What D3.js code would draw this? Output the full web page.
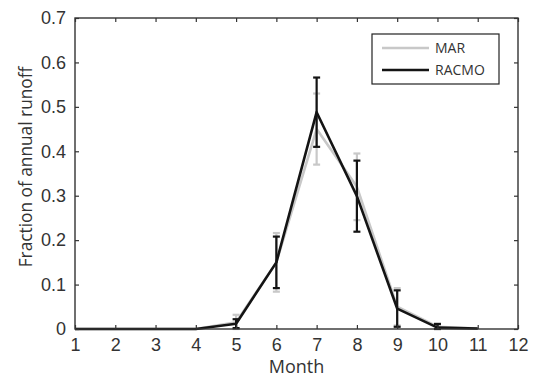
<!DOCTYPE html>
<html>
<head>
<meta charset="utf-8">
<script src="https://cdnjs.cloudflare.com/ajax/libs/d3/7.8.5/d3.min.js"></script>
<style>
  body { margin: 0; background: #fff; }
  svg { display: block; font-family: "Open Sans", "Liberation Sans", sans-serif; }
</style>
</head>
<body>
<div id="chart"></div>
<script>
// months on the x axis
const months = [1, 2, 3, 4, 5, 6, 7, 8, 9, 10, 11];
// monthly fraction of annual runoff, with one-sigma spread
const marValues   = [0, 0, 0, 0, 0.015, 0.15, 0.45, 0.32, 0.05, 0.005, 0.001];
const marErrors   = [0, 0, 0, 0, 0.017, 0.066, 0.08, 0.075, 0.042, 0.008, 0];
const racmoValues = [0, 0, 0, 0, 0.012, 0.15, 0.488, 0.299, 0.046, 0.003, 0.001];
const racmoErrors = [0, 0, 0, 0, 0.01, 0.058, 0.078, 0.08, 0.041, 0.008, 0];
const xTicks = [1, 2, 3, 4, 5, 6, 7, 8, 9, 10, 11, 12];
const yTicks = [0, 0.1, 0.2, 0.3, 0.4, 0.5, 0.6, 0.7];

const width = 533, height = 381;
const margin = { top: 18, right: 15, bottom: 52, left: 75 };

const svg = d3.select("#chart").append("svg")
    .attr("width", width)
    .attr("height", height);

const x = d3.scaleLinear().domain([1, 12]).range([margin.left, width - margin.right]);
const y = d3.scaleLinear().domain([0, 0.7]).range([height - margin.bottom, margin.top]);

const series = [
    { name: "MAR", values: marValues, errors: marErrors, color: "#c8c8c8" },
    { name: "RACMO", values: racmoValues, errors: racmoErrors, color: "#141414" }
];

const line = d3.line()
    .x(d => x(d.m))
    .y(d => y(d.v));

series.forEach(s => {
    const pts = months.map((m, i) => ({ m, v: s.values[i], e: s.errors[i] }));
    const g = svg.append("g");
    // error bars
    pts.filter(d => d.e > 0).forEach(d => {
        const x0 = x(d.m), y1 = y(d.v + d.e), y2 = y(Math.max(0, d.v - d.e));
        g.append("line").attr("x1", x0).attr("x2", x0).attr("y1", y1).attr("y2", y2)
            .attr("stroke", s.color).attr("stroke-width", 2.2);
        [y1, y2].forEach(yy => {
            g.append("line").attr("x1", x0 - 3.5).attr("x2", x0 + 3.5).attr("y1", yy).attr("y2", yy)
                .attr("stroke", s.color).attr("stroke-width", 2.2);
        });
    });
    g.append("path")
        .datum(pts)
        .attr("d", line)
        .attr("fill", "none")
        .attr("stroke", s.color)
        .attr("stroke-width", 2.6)
        .attr("stroke-linejoin", "round");
});

// frame and ticks
const axisColor = "#333";
const x0 = x.range()[0], x1 = x.range()[1], y0 = y.range()[0], y1 = y.range()[1];
svg.append("rect")
    .attr("x", x0).attr("y", y1)
    .attr("width", x1 - x0).attr("height", y0 - y1)
    .attr("fill", "none").attr("stroke", axisColor).attr("stroke-width", 1.4);

const xAxis = svg.append("g").attr("transform", `translate(0,${y0})`)
    .call(d3.axisBottom(x).tickValues(xTicks).tickSizeInner(-4).tickSizeOuter(0).tickPadding(9));
const xTop = svg.append("g").attr("transform", `translate(0,${y1})`)
    .call(d3.axisTop(x).tickValues(xTicks).tickSizeInner(-4).tickSizeOuter(0).tickFormat(""));
const yAxis = svg.append("g").attr("transform", `translate(${x0},0)`)
    .call(d3.axisLeft(y).tickValues(yTicks).tickSizeInner(-4).tickSizeOuter(0).tickPadding(9)
        .tickFormat(d => d === 0 ? "0" : d3.format(".1f")(d)));
const yRight = svg.append("g").attr("transform", `translate(${x1},0)`)
    .call(d3.axisRight(y).tickValues(yTicks).tickSizeInner(-4).tickSizeOuter(0).tickFormat(""));

[xAxis, xTop, yAxis, yRight].forEach(a => {
    a.select(".domain").remove();
    a.selectAll("line").attr("stroke", axisColor).attr("stroke-width", 1.2);
    a.selectAll("text").attr("fill", "#333").style("font-size", "18px");
});

svg.append("text")
    .attr("x", (x0 + x1) / 2).attr("y", 373)
    .attr("text-anchor", "middle")
    .attr("fill", "#333")
    .style("font-size", "18px")
    .text("Month");

svg.append("text")
    .attr("transform", "translate(32,167) rotate(-90)")
    .attr("text-anchor", "middle")
    .attr("fill", "#333")
    .style("font-size", "17.3px")
    .text("Fraction of annual runoff");

// legend
const lg = svg.append("g").attr("transform", "translate(372,34)");
lg.append("rect").attr("width", 127).attr("height", 50)
    .attr("fill", "#fff").attr("stroke", "#222").attr("stroke-width", 1.2);
series.forEach((s, i) => {
    const yy = 14 + i * 22;
    lg.append("line").attr("x1", 10).attr("x2", 57).attr("y1", yy).attr("y2", yy)
        .attr("stroke", s.color).attr("stroke-width", 2.6);
    lg.append("text").attr("x", 63).attr("y", yy + 5)
        .attr("fill", "#333").style("font-size", "14px").text(s.name);
});
</script>
</body>
</html>
